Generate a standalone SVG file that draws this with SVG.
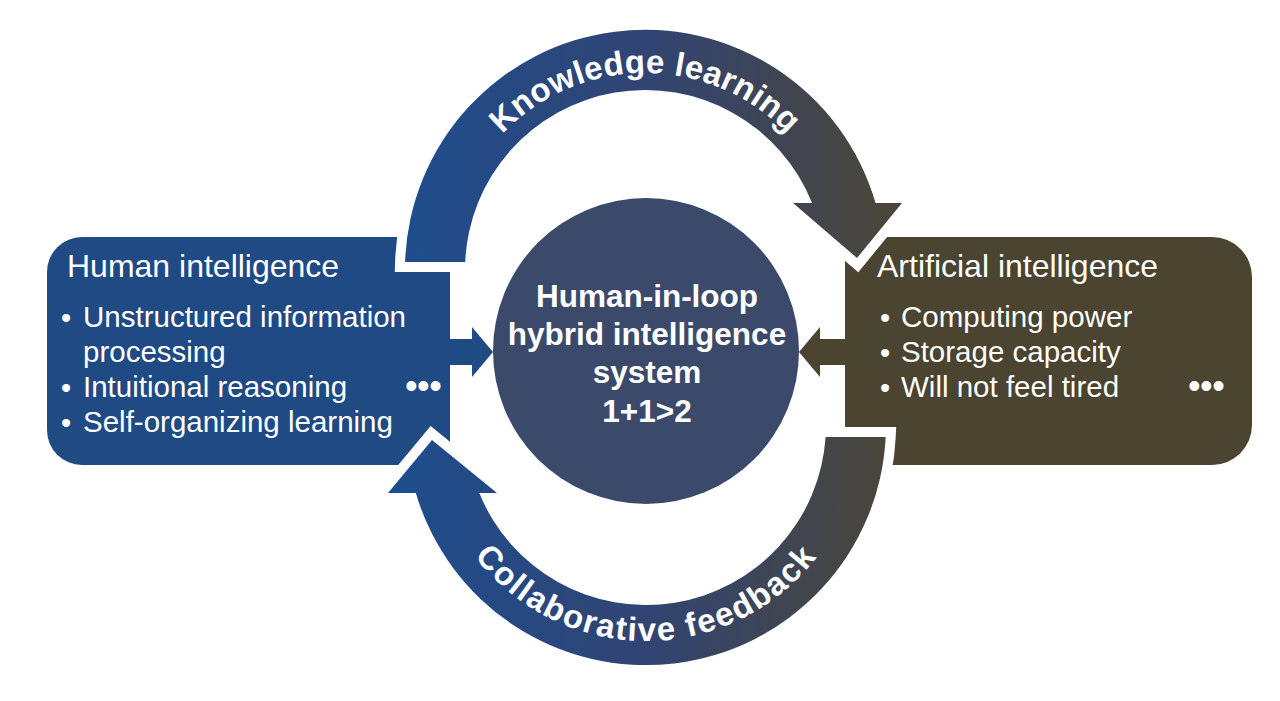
<svg xmlns="http://www.w3.org/2000/svg" width="1280" height="701" viewBox="0 0 1280 701">
<style>
.title{font-family:"Liberation Sans",Arial,sans-serif;font-size:32px;fill:#ffffff}
.item{font-family:"Liberation Sans",Arial,sans-serif;font-size:29.5px;fill:#ffffff}
.bul{font-family:"Liberation Sans",Arial,sans-serif;font-size:29px;fill:#ffffff}
.dots{font-family:"Liberation Sans",Arial,sans-serif;font-size:36px;fill:#ffffff;letter-spacing:-0.5px}
.ctr{font-family:"Liberation Sans",Arial,sans-serif;font-size:31.5px;font-weight:bold;fill:#ffffff;text-anchor:middle}
.arcl{font-family:"Liberation Sans",Arial,sans-serif;font-size:33px;font-weight:bold;fill:#ffffff}
.arc{fill:url(#g);stroke:#ffffff;stroke-width:20;stroke-linejoin:miter;stroke-miterlimit:6;paint-order:stroke}
</style>
<defs>
<linearGradient id="g" gradientUnits="userSpaceOnUse" x1="400" y1="0" x2="900" y2="0">
<stop offset="0" stop-color="#1e4d8d"/>
<stop offset="0.5" stop-color="#314472"/>
<stop offset="1" stop-color="#4b4636"/>
</linearGradient>
<path id="kpath" d="M448,270 A197,197 0 0 1 842,270"/>
<path id="cpath" d="M430,425 A216,216 0 0 0 862,425"/>
</defs>
<rect width="1280" height="701" fill="#ffffff"/>

<g id="node-human">
<path d="M82,237 H450 V465 H82 A35,35 0 0 1 47,430 V272 A35,35 0 0 1 82,237 Z" fill="#1f4a84"/>
<text class="title" x="67" y="277">Human intelligence</text>
<text class="bul" x="61" y="328">•</text><text class="item" x="83" y="327">Unstructured information</text>
<text class="item" x="83" y="362">processing</text>
<text class="bul" x="61" y="398">•</text><text class="item" x="83" y="397">Intuitional reasoning</text>
<text class="bul" x="61" y="433">•</text><text class="item" x="83" y="432">Self-organizing learning</text>
<text class="dots" x="405" y="398">•••</text>
</g>

<g id="node-ai">
<path d="M845,237 H1212 A40,40 0 0 1 1252,277 V425 A40,40 0 0 1 1212,465 H845 Z" fill="#4a4431"/>
<text class="title" x="877" y="277">Artificial intelligence</text>
<text class="bul" x="880" y="328">•</text><text class="item" x="901" y="327">Computing power</text>
<text class="bul" x="880" y="363">•</text><text class="item" x="901" y="362">Storage capacity</text>
<text class="bul" x="880" y="398">•</text><text class="item" x="901" y="397">Will not feel tired</text>
<text class="dots" x="1188" y="398">•••</text>
</g>

<g id="node-center">
<circle cx="646" cy="351" r="153" fill="#3b4a6b"/>
<text class="ctr" x="647" y="307">Human-in-loop</text>
<text class="ctr" x="647" y="345">hybrid intelligence</text>
<text class="ctr" x="647" y="383">system</text>
<text class="ctr" x="647" y="422">1+1&gt;2</text>
</g>

<g id="connectors">
<polygon points="449,339 472,339 472,327 493,352 472,377 472,365 449,365" fill="#1f4a84"/>
<polygon points="846,339 820,339 820,327 799,352 820,377 820,365 846,365" fill="#4a4431"/>
<path class="arc" d="M405.1,262 A240,240 0 0 1 875.5,203 L902,203 L857,258 L793,203 L812.1,203 A180,180 0 0 0 465.2,262 Z"/>
<path class="arc" d="M885.7,437 A240,240 0 0 1 415.8,493 L388,493 L432,440 L497,493 L479.3,493 A180,180 0 0 0 825.6,437 Z"/>
<text class="arcl" letter-spacing="0.3"><textPath href="#kpath" startOffset="50%" text-anchor="middle">Knowledge learning</textPath></text>
<text class="arcl" letter-spacing="1.6"><textPath href="#cpath" startOffset="50%" text-anchor="middle">Collaborative feedback</textPath></text>
</g>
</svg>
